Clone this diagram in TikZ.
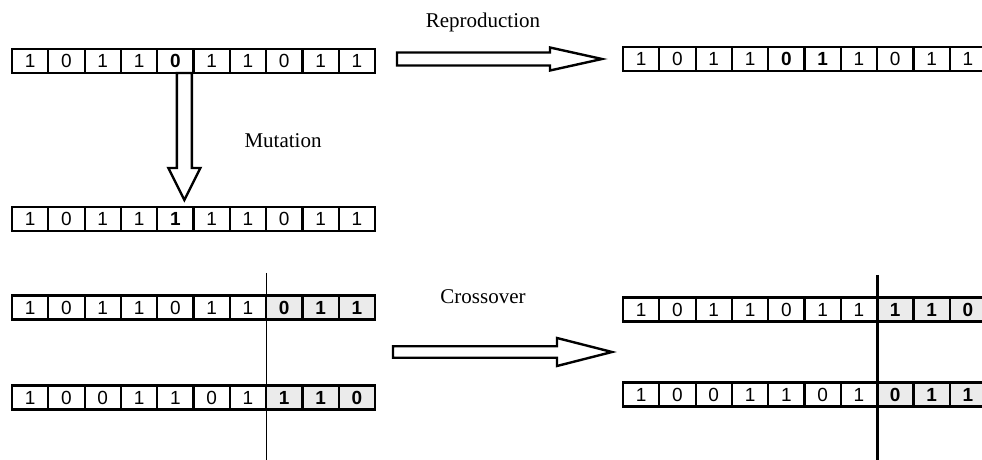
\documentclass[tikz,border=0pt]{standalone}
\usepackage{fontspec}
\setmainfont{Liberation Serif}
\newfontfamily\digitfont{Liberation Sans}
\usetikzlibrary{calc}

% one chromosome: name, x of first cell, y, list of bit/kind
\newcommand{\chrom}[4]{%
  \foreach \v/\t [count=\i] in {#4}
    \node[cell, cell \t] (#1-\i) at ({#2+(\i-1)*36.3}, #3) {\v};
}
% hollow block arrows: from, to, half shaft, half head, head length
\newcommand{\hblock}[5]{%
  \draw[blockarrow] ($(#1)+(0,-#3)$) -- ($(#2)+(-#5,-#3)$) -- ($(#2)+(-#5,-#4)$)
    -- (#2) -- ($(#2)+(-#5,#4)$) -- ($(#2)+(-#5,#3)$) -- ($(#1)+(0,#3)$) -- cycle;
}
\newcommand{\vblock}[5]{%
  \draw[blockarrow] ($(#1)+(-#3,0)$) -- ($(#2)+(-#3,-#5)$) -- ($(#2)+(-#4,-#5)$)
    -- (#2) -- ($(#2)+(#4,-#5)$) -- ($(#2)+(#3,-#5)$) -- ($(#1)+(#3,0)$) -- cycle;
}

\begin{document}
\begin{tikzpicture}[x=0.5pt,y=-0.5pt]
    \tikzstyle{cell}=[draw, line width=1.1pt, outer sep=0pt, inner sep=0pt,
                      minimum width=18.15pt, minimum height=12pt,
                      font=\digitfont\fontsize{9.5}{10}\selectfont]
    \tikzstyle{cell n}=[]
    \tikzstyle{cell b}=[font=\digitfont\fontsize{9.5}{10}\selectfont\bfseries]
    \tikzstyle{cell g}=[fill=black!8, font=\digitfont\fontsize{9.5}{10}\selectfont\bfseries]
    \tikzstyle{blockarrow}=[draw, line width=1.2pt, line join=miter]
    \tikzstyle{lbl}=[font=\fontsize{10.5}{12}\selectfont]

    \useasboundingbox (0,0) rectangle (982,460);

    % parents and offspring
    \chrom{p}{30.15}{61}{1/n,0/n,1/n,1/n,0/b,1/n,1/n,0/n,1/n,1/n}
    \chrom{r}{641.15}{59}{1/n,0/n,1/n,1/n,0/b,1/b,1/n,0/n,1/n,1/n}
    \chrom{m}{30.15}{219}{1/n,0/n,1/n,1/n,1/b,1/n,1/n,0/n,1/n,1/n}
    \chrom{c1}{30.15}{307.5}{1/n,0/n,1/n,1/n,0/n,1/n,1/n,0/g,1/g,1/g}
    \chrom{c2}{30.15}{397.5}{1/n,0/n,0/n,1/n,1/n,0/n,1/n,1/g,1/g,0/g}
    \chrom{o1}{641.15}{309.5}{1/n,0/n,1/n,1/n,0/n,1/n,1/n,1/g,1/g,0/g}
    \chrom{o2}{641.15}{394.5}{1/n,0/n,0/n,1/n,1/n,0/n,1/n,0/g,1/g,1/g}

    % operators
    \coordinate (repro-a) at ($(p-10.east)+(22,-2)$);
    \coordinate (repro-b) at ($(r-1.west)+(-21,0)$);
    \hblock{repro-a}{repro-b}{6.5}{11.5}{52}
    \coordinate (mut-a) at ($(p-5.south)+(9,0)$);
    \coordinate (mut-b) at ($(m-5.north)+(9,-7)$);
    \vblock{mut-a}{mut-b}{7.5}{16}{32}
    \coordinate (cross-a) at ($(c1-10.east)!0.5!(c2-10.east)+(18,-0.5)$);
    \coordinate (cross-b) at ($(o1-1.west)!0.5!(o2-1.west)+(-11,0)$);
    \hblock{cross-a}{cross-b}{5.75}{14}{55}

    \node[lbl] (reprolbl) at (483,22) {Reproduction};
    \node[lbl] (mutlbl) at (283,141) {Mutation};
    \node[lbl] (crosslbl) at (483,297) {Crossover};

    % crossover points
    \coordinate (cuta) at ($(c1-7.east)+(0,-34.5)$);
    \coordinate (cutb) at ($(c2-7.east)+(0,62.5)$);
    \coordinate (cutc) at ($(o1-7.east)+(0,-34.5)$);
    \coordinate (cutd) at ($(o2-7.east)+(0,66)$);
    \draw[line width=0.5pt] (cuta) -- (cutb);
    \draw[line width=1.5pt] (cutc) -- (cutd);
\end{tikzpicture}
\end{document}
